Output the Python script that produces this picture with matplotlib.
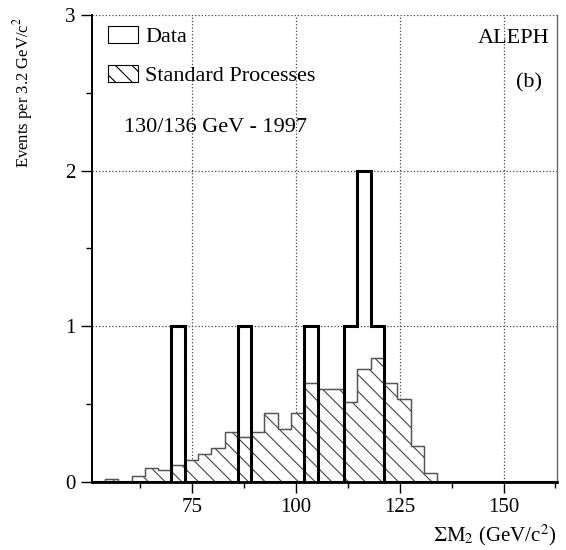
import matplotlib
matplotlib.use("Agg")
import matplotlib.pyplot as plt
from matplotlib.patches import Patch
import numpy as np

plt.rcParams['font.family'] = ['Liberation Serif', 'DejaVu Serif']
plt.rcParams['mathtext.fontset'] = 'stix'
plt.rcParams['hatch.linewidth'] = 0.8

# bin edges: 35 bins of 3.2 GeV
x_lo = 50.8
bin_w = 3.2
n_bins = 35
edges = x_lo + bin_w * np.arange(n_bins + 1)

# standard processes (MC), per bin
mc = [0.0, 0.015, 0.0, 0.035, 0.09, 0.073, 0.107, 0.141, 0.176, 0.214,
      0.317, 0.285, 0.317, 0.44, 0.337, 0.44, 0.634, 0.598, 0.598, 0.51,
      0.722, 0.793, 0.634, 0.53, 0.231, 0.056, 0, 0, 0, 0,
      0, 0, 0, 0, 0]

# data events, per bin
data = [0, 0, 0, 0, 0, 0, 1, 0, 0, 0,
        0, 1, 0, 0, 0, 0, 1, 0, 0, 1,
        2, 1, 0, 0, 0, 0, 0, 0, 0, 0,
        0, 0, 0, 0, 0]

fig = plt.figure(figsize=(5.66, 5.5), dpi=100)
ax = fig.add_axes([0.162, 0.1242, 0.8216, 0.8485])

ax.stairs(mc, edges, fill=True, facecolor='white', edgecolor='#444444',
          hatch='\\\\', lw=0.9)
ax.stairs(mc, edges, color='#555555', lw=0.9)
ax.stairs(data, edges, color='black', lw=2.2, baseline=0)

ax.set_xlim(edges[0], edges[-1])
ax.set_ylim(0, 3)
ax.set_xticks([75, 100, 125, 150])
ax.set_xticks(np.arange(62.5, 163, 12.5), minor=True)
ax.set_yticks([0, 1, 2, 3])
ax.set_yticks([0.5, 1.5, 2.5], minor=True)
ax.tick_params(axis='both', which='major', direction='out', length=8, width=1,
               labelsize=15)
ax.tick_params(axis='both', which='minor', direction='out', length=4, width=1)
ax.grid(True, which='major', linestyle=':', color='#444444', lw=0.9)
ax.set_axisbelow(True)

ax.spines['top'].set_visible(False)
ax.spines['left'].set_linewidth(1.4)
ax.spines['bottom'].set_linewidth(2)
ax.spines['right'].set_color('#666666')
ax.spines['right'].set_linewidth(1)

ax.set_xlabel(r'$\Sigma$M$_2$ (GeV/c$^2$)', fontsize=15, ha='right', x=1.0)
ax.set_ylabel(r'Events per 3.2 GeV/c$^2$', fontsize=12, ha='right', y=0.995,
              labelpad=22)

handles = [Patch(facecolor='white', edgecolor='black', lw=0.8),
           Patch(facecolor='white', edgecolor='black', lw=0.8, hatch='\\\\')]
ax.legend(handles, ['Data', 'Standard Processes'], loc='upper left',
          frameon=False, fontsize=16, handlelength=1.35, handleheight=0.77,
          labelspacing=0.8, handletextpad=0.33, borderaxespad=0.0,
          bbox_to_anchor=(0.015, 0.995))

ax.text(0.07, 0.76, '130/136 GeV - 1997', transform=ax.transAxes,
        fontsize=16, va='center')
ax.text(0.985, 0.95, 'ALEPH', transform=ax.transAxes, fontsize=16,
        ha='right', va='center')
ax.text(0.968, 0.855, '(b)', transform=ax.transAxes, fontsize=16,
        ha='right', va='center')

fig.savefig('out.png', dpi=100)
